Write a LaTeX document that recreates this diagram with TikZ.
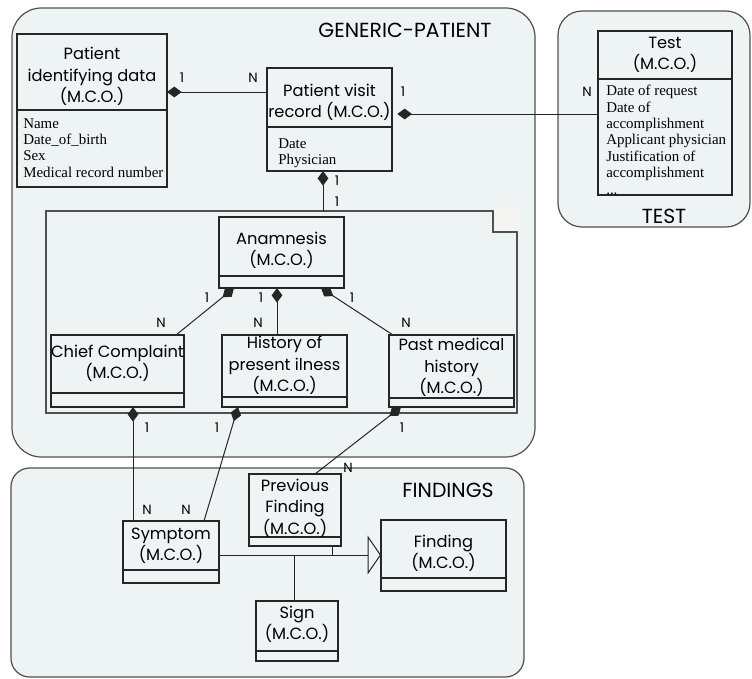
\documentclass[tikz,border=0pt]{standalone}
\usepackage{fontspec}
\setmainfont{Liberation Serif}
\newfontfamily\ttl{Poppins}
\usetikzlibrary{arrows.meta}
\definecolor{cfill}{HTML}{EEF3F3}
\definecolor{cline}{HTML}{505050}
\definecolor{tabfill}{HTML}{F4F5F3}
\newcommand\umlclass[8]{% name, x1,y1,x2,y2, ysep, text centre y, title
  \node[classnode, minimum width={(#4-#2)*0.75pt}, minimum height={(#5-#3)*0.75pt}] (#1) at (#2,#3) {};
  \draw[sepline] (#2,#6) -- (#4,#6);
  \node[titletext] (#1-title) at ({(#2+#4)/2},#7) {#8};
}
\begin{document}
\begin{tikzpicture}[x=0.75pt,y=-0.75pt,
  container/.style={draw=cline, line width=0.9pt, fill=cfill, rounded corners=#1},
  classnode/.style={draw=black!85, fill=cfill, line width=1pt, inner sep=0pt, outer sep=0pt, anchor=north west},
  sepline/.style={draw=black!85, line width=1pt},
  titletext/.style={inner sep=0pt, align=center, font=\ttl\fontsize{12.2}{16}\selectfont},
  attr/.style={inner sep=0pt, anchor=north west, align=left, font=\fontsize{11.2}{12.3}\selectfont},
  mult/.style={inner sep=0pt, font=\ttl\fontsize{10}{11}\selectfont},
  bigtitle/.style={inner sep=0pt, font=\ttl\fontsize{15.3}{18}\selectfont},
  conn/.style={draw=black!85, line width=0.75pt},
  comp/.style={conn, -{Diamond[length=11pt,width=8pt]}},
  gen/.style={conn, -{Triangle[length=10pt,width=29pt,fill=cfill]}},
  pkgline/.style={draw=cline, line width=1.2pt}
]
\useasboundingbox (0,0) rectangle (752,678);
% containers
\draw[container=22pt] (12,8) rectangle (535,457);
\draw[container=18pt] (558,11) rectangle (750,227);
\draw[container=14pt] (11,468) rectangle (524,677);
\node[bigtitle] (gptitle) at (405,30) {GENERIC-PATIENT};
\node[bigtitle] (testtitle) at (664,216) {TEST};
\node[bigtitle] (findtitle) at (448,490) {FINDINGS};
% package
\node[inner sep=0pt, outer sep=0pt, anchor=north west, minimum width={471*0.75pt}, minimum height={202*0.75pt}] (pkg) at (46,211) {};
\fill[tabfill] (493,207) rectangle (519,232);
\draw[pkgline] (pkg.north west) -- (493,211) -- (493,232) -- (517,232) -- (pkg.south east) -- (pkg.south west) -- cycle;
% classes
\umlclass{pid}{17}{34}{167}{187}{110}{76.5}{Patient\\identifying data\\(M.C.O.)}
\node[attr] (pid-attr) at (23,118) {Name\\Date\_of\_birth\\Sex\\Medical record number};
\umlclass{pvr}{267}{68}{392}{171}{127}{102}{Patient visit\\record (M.C.O.)}
\node[attr] (pvr-attr) at (278,138) {Date\\Physician};
\umlclass{test}{598}{31}{732}{195}{79}{55}{Test\\(M.C.O.)}
\node[attr] (test-attr) at (606,85) {Date of request\\Date of\\accomplishment\\Applicant physician\\Justification of\\accomplishment\\...};
\umlclass{anam}{219}{217}{344}{288}{276}{250}{Anamnesis\\(M.C.O.)}
\umlclass{cc}{51}{335}{184}{407}{393}{363}{Chief Complaint\\(M.C.O.)}
\umlclass{hpi}{222}{335}{347}{407}{397}{365.5}{History of\\present ilness\\(M.C.O.)}
\umlclass{pmh}{389}{335}{514}{407}{398}{367.5}{Past medical\\history\\(M.C.O.)}
\umlclass{symptom}{123}{521}{219}{583}{570}{546}{Symptom\\(M.C.O.)}
\umlclass{pf}{249}{474}{341}{546}{537}{508}{Previous\\Finding\\(M.C.O.)}
\umlclass{finding}{381}{520}{506}{591}{578}{553.5}{Finding\\(M.C.O.)}
\umlclass{sign}{256}{601}{338}{661}{651}{624}{Sign\\(M.C.O.)}
% connectors
\draw[comp] (pvr.west |- 0,92) -- (pid.east |- 0,92);
\draw[comp, shorten >=4pt] (test.west |- 0,114) -- (pvr.east |- 0,114);
\draw[comp] (pkg.north -| 323,0) -- (pvr.south -| 323,0);
\draw[comp] (cc.north -| 176,0) -- (anam.south -| 234,0);
\draw[comp] (hpi.north -| 277,0) -- (anam.south -| 277,0);
\draw[comp] (pmh.north -| 393,0) -- (anam.south -| 321,0);
\draw[comp] (symptom.north -| 133,0) -- (cc.south -| 133,0);
\draw[comp] (symptom.north -| 204,0) -- (hpi.south -| 238,0);
\draw[comp] (pf.north -| 315,0) -- (pmh.south -| 401,0);
\coordinate (jpf) at (332,555);
\coordinate (jsign) at (294,555);
\draw[gen] (symptom.east |- jpf) -- (finding.west |- jpf);
\draw[conn] (pf.south -| jpf) -- (jpf);
\draw[conn] (sign.north -| jsign) -- (jsign);
% multiplicities
\node[mult] (m1) at (182,78) {1};
\node[mult] (m2) at (253,78) {N};
\node[mult] (m3) at (403,92) {1};
\node[mult] (m4) at (587,92) {N};
\node[mult] (m5) at (337,181) {1};
\node[mult] (m6) at (337,202) {1};
\node[mult] (m7) at (207,298) {1};
\node[mult] (m8) at (161,323) {N};
\node[mult] (m9) at (261,298) {1};
\node[mult] (m10) at (258,323) {N};
\node[mult] (m11) at (352,298) {1};
\node[mult] (m12) at (406,323) {N};
\node[mult] (m13) at (147,428) {1};
\node[mult] (m14) at (217,428) {1};
\node[mult] (m15) at (402,428) {1};
\node[mult] (m16) at (147,510) {N};
\node[mult] (m17) at (186,510) {N};
\node[mult] (m18) at (348,468) {N};
\end{tikzpicture}
\end{document}
